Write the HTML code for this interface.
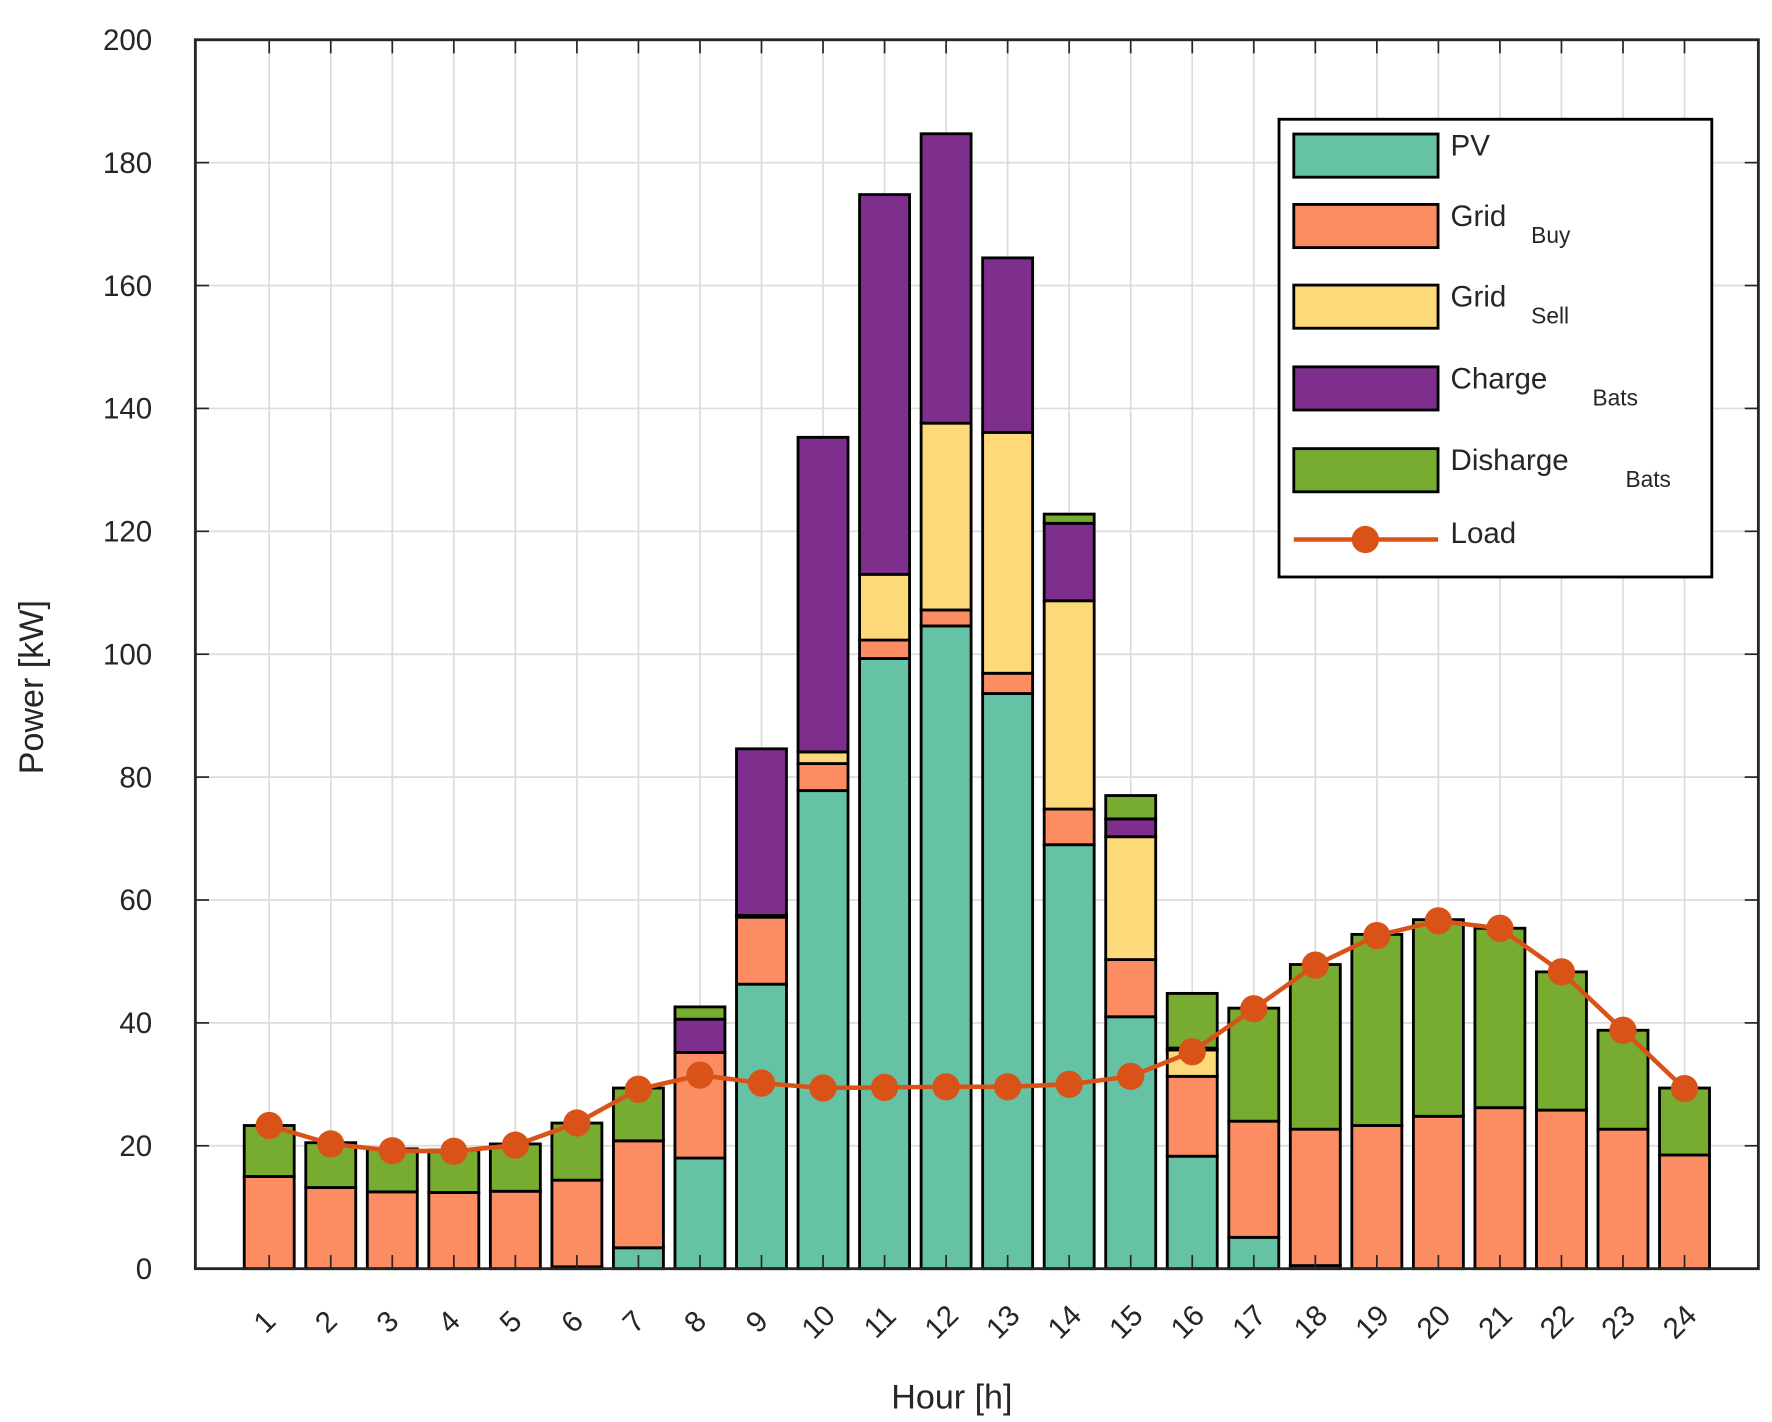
<!DOCTYPE html>
<html><head><meta charset="utf-8"><style>
html,body{margin:0;padding:0;background:#fff}
svg{display:block}
text{font-family:"Liberation Sans",sans-serif;fill:#262626}
</style></head><body>
<svg id="chart" width="1772" height="1422" viewBox="0 0 1560 1252" preserveAspectRatio="none" xmlns="http://www.w3.org/2000/svg">
<g id="grid"></g>
<g id="bars"></g>
<g id="line"></g>
<g id="axes"></g>
<g id="legend"></g>
</svg>
<script>
const hours = [1,2,3,4,5,6,7,8,9,10,11,12,13,14,15,16,17,18,19,20,21,22,23,24];
const pv = [0,0,0,0,0,0.3,3.4,18,46.3,77.8,99.3,104.6,93.6,69,41,18.3,5.1,0.5,0,0,0,0,0,0];
const gridBuy = [15,13.2,12.5,12.4,12.6,14.1,17.4,17.2,10.9,4.4,3,2.6,3.3,5.8,9.3,13,18.9,22.2,23.3,24.8,26.2,25.8,22.7,18.5];
const gridSell = [0,0,0,0,0,0,0,0,0.3,1.9,10.7,30.4,39.2,33.9,20,4.3,0,0,0,0,0,0,0,0];
const chargeBats = [0,0,0,0,0,0,0,5.4,27.1,51.2,61.8,47.1,28.4,12.6,2.9,0.3,0,0,0,0,0,0,0,0];
const dischargeBats = [8.3,7.3,7,6.9,7.7,9.3,8.6,2,0,0,0,0,0,1.5,3.8,8.9,18.4,26.8,31.1,32,29.2,22.5,16.1,10.9];
const load = [23.3,20.3,19.2,19.1,20.1,23.7,29.2,31.5,30.2,29.4,29.5,29.6,29.6,30,31.3,35.3,42.3,49.4,54.2,56.6,55.4,48.3,38.8,29.3];
const yTicks = [0,20,40,60,80,100,120,140,160,180,200];

const NS="http://www.w3.org/2000/svg";
const L=172,R=1548,T=35,B=1117;
const xMin=-0.2,xMax=25.2,yMax=200;
const xs=v=>L+(v-xMin)/(xMax-xMin)*(R-L);
const ys=v=>B-v/yMax*(B-T);
function mk(tag,attrs,parent){const e=document.createElementNS(NS,tag);for(const k in attrs)e.setAttribute(k,attrs[k]);parent.appendChild(e);return e;}
const G=document.getElementById('grid'),BA=document.getElementById('bars'),LN=document.getElementById('line'),AX=document.getElementById('axes'),LG=document.getElementById('legend');

yTicks.forEach(t=>{const y=ys(t);
 const g=mk('line',{x1:L,x2:R,y1:y,y2:y,stroke:'#dcdcdc','stroke-width':1.5},G);
 
 
 mk('line',{x1:L,x2:L+12,y1:y,y2:y,stroke:'#262626','stroke-width':1.5},AX);
 mk('line',{x1:R,x2:R-12,y1:y,y2:y,stroke:'#262626','stroke-width':1.5},AX);
 const tx=mk('text',{x:134,y:y+9,'text-anchor':'end','font-size':26},AX);tx.textContent=t;
 
 
});
hours.forEach(h=>{const x=xs(h);
 const g=mk('line',{x1:x,x2:x,y1:T,y2:B,stroke:'#dcdcdc','stroke-width':1.5},G);
 
 
 mk('line',{x1:x,x2:x,y1:B,y2:B-12,stroke:'#262626','stroke-width':1.5},AX);
 mk('line',{x1:x,x2:x,y1:T,y2:T+12,stroke:'#262626','stroke-width':1.5},AX);
 const tx=mk('text',{x:0,y:0,'text-anchor':'middle','font-size':26,transform:`translate(${x+2},${1170}) rotate(-45)`},AX);tx.textContent=h;
 
 
});

const series=[[pv,'#66c2a5','pv'],[gridBuy,'#fc8d62','grid-buy'],[gridSell,'#fed97a','grid-sell'],[chargeBats,'#7e2f8e','charge-bats'],[dischargeBats,'#77ac30','discharge-bats']];
const bw=44;
hours.forEach((h,i)=>{let base=0;const x=xs(h)-bw/2;
 series.forEach(([arr,col,nm])=>{const v=arr[i];if(v<=0)return;
  const r=mk('rect',{x:x,y:ys(base+v),width:bw,height:ys(base)-ys(base+v),fill:col,stroke:'#000','stroke-width':2.5},BA);
  
  
  base+=v;});
});

const pts=hours.map((h,i)=>xs(h)+','+ys(load[i])).join(' ');
mk('polyline',{points:pts,fill:'none',stroke:'#d95319','stroke-width':4},LN);
hours.forEach((h,i)=>{const c=mk('circle',{cx:xs(h),cy:ys(load[i]),r:12,fill:'#d95319'},LN);
 
 });

mk('rect',{x:L,y:T,width:R-L,height:B-T,fill:'none',stroke:'#262626','stroke-width':2.5},AX);
let t=mk('text',{x:838,y:1240,'text-anchor':'middle','font-size':30},AX);t.textContent='Hour [h]';


t=mk('text',{x:0,y:0,'text-anchor':'middle','font-size':30,transform:'translate(38,605) rotate(-90)'},AX);t.textContent='Power [kW]';



mk('rect',{x:1126,y:105,width:381,height:403,fill:'#fff',stroke:'#000','stroke-width':2.5},LG);
const leg=[['PV','',118,'#66c2a5',0],['Grid','Buy',180,'#fc8d62',1348],['Grid','Sell',251,'#fed97a',1348],['Charge','Bats',323,'#7e2f8e',1402],['Disharge','Bats',395,'#77ac30',1431]];
leg.forEach(([a,s,y,c,sx])=>{
 const r=mk('rect',{x:1139,y:y,width:127,height:38,fill:c,stroke:'#000','stroke-width':2.5},LG);
 
 
 const tx=mk('text',{x:1277,y:y+19,'font-size':26},LG);tx.textContent=a;
 
 
 if(s){const st=mk('text',{x:sx,y:y+34,'font-size':20},LG);st.textContent=s;
  
  }
});
mk('line',{x1:1139,x2:1266,y1:475,y2:475,stroke:'#d95319','stroke-width':4},LG);
mk('circle',{cx:1202,cy:475,r:12,fill:'#d95319'},LG);
t=mk('text',{x:1277,y:478,'font-size':26},LG);t.textContent='Load';


</script>
</body></html>
